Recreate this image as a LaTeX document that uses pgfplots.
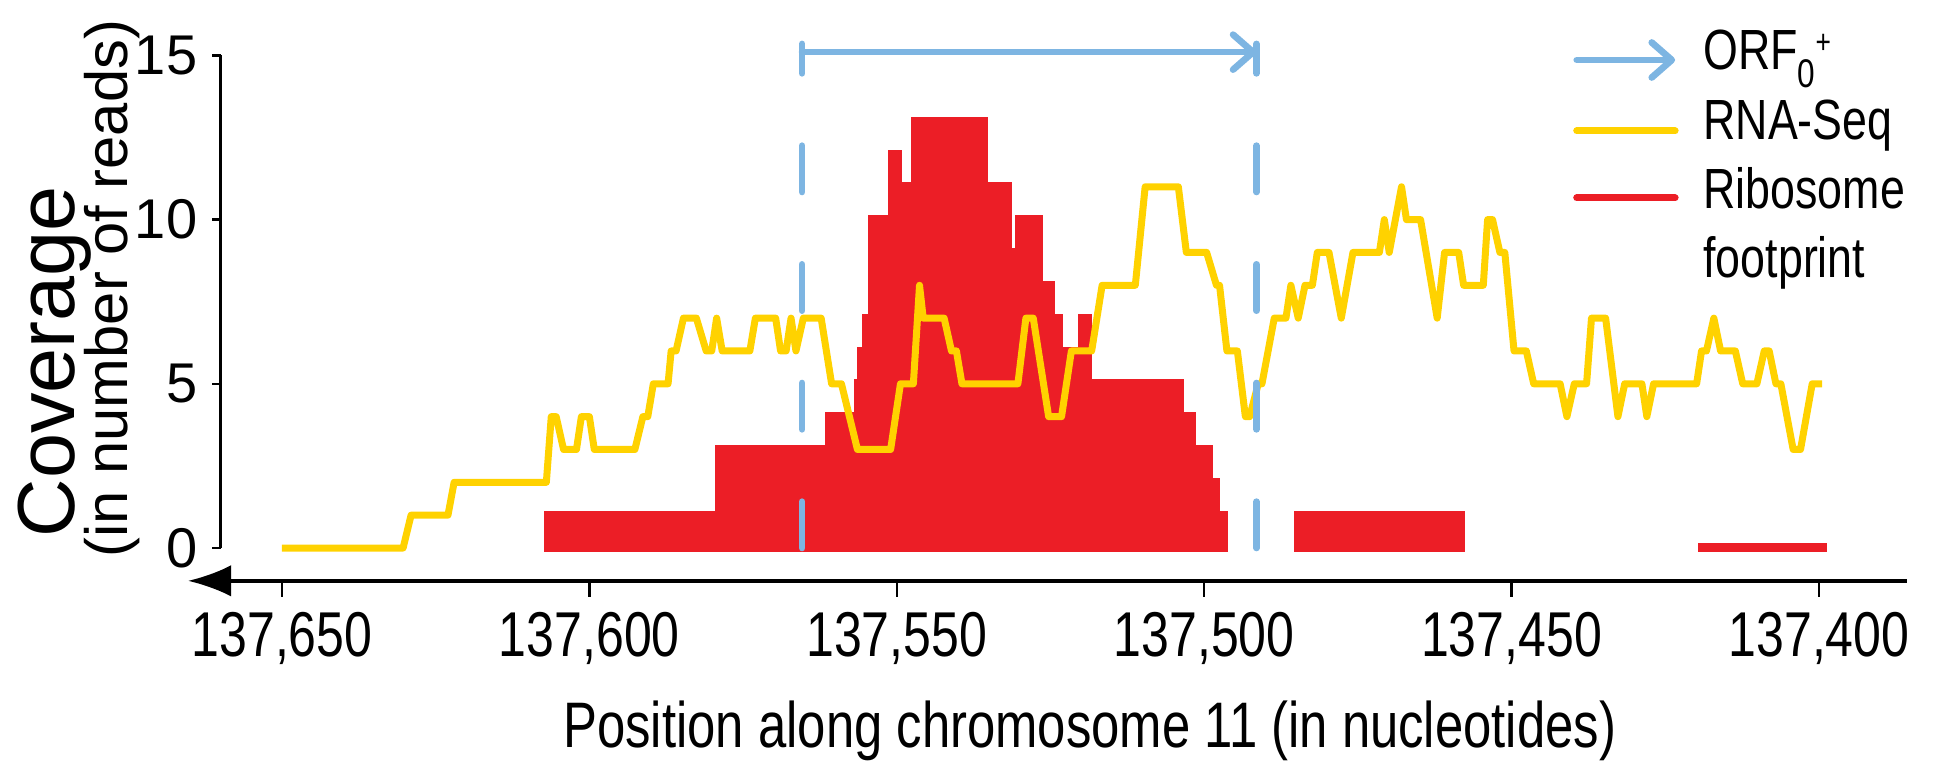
\documentclass[border=0pt]{standalone}
\usepackage{fontspec}
\setmainfont{Liberation Sans}
\newfontfamily\condfont{Liberation Sans}[FakeStretch=0.79]
\usepackage{pgfplots}
\pgfplotsset{compat=1.18}
\usetikzlibrary{arrows.meta}
\definecolor{orfblue}{RGB}{125,181,226}
\definecolor{rnayellow}{RGB}{255,210,0}
\definecolor{riboRed}{RGB}{236,30,38}
% x values: position along chromosome 11 minus 137,000
\begin{document}
\begin{tikzpicture}
\begin{axis}[
  x=1.8444pt, y=9.852pt,
  x dir=reverse,
  xmin=385.7, xmax=660,
  ymin=-1.0, ymax=15,
  clip=false,
  axis line style={draw=none},
  xtick={400,450,500,550,600,650},
  xticklabels={{137,400},{137,450},{137,500},{137,550},{137,600},{137,650}},
  ytick={0,5,10,15},
  yticklabels={0,5,10,15},
  xtick pos=bottom, ytick pos=left,
  tick align=outside,
  major tick length=4.8pt,
  xtick style={black, line width=0.7pt},
  ytick style={draw=none},
  xticklabel style={font=\condfont\fontsize{19}{22}\selectfont, inner sep=0pt, anchor=base, yshift=-17.9pt},
  yticklabel style={font=\fontsize{16.8}{19}\selectfont, inner sep=0pt, anchor=east, xshift=-2.0pt},
]
% Ribosome footprint coverage (step)
\addplot[fill=riboRed, draw=riboRed, line width=2.6pt, const plot] coordinates {
(606.7,0) (606.7,1) (578.9,3) (577.8,2) (576.8,3) (560.9,4) (556.3,5) (555.7,6)
(554.9,7) (554.0,10) (550.8,12) (549.8,11) (547.0,13) (535.8,11) (532.0,9) (530.0,10)
(526.9,7) (525.9,8) (524.9,7) (523.7,5) (522.9,6) (519.9,7) (518.9,4) (518.0,5)
(504.0,4) (502.1,3) (499.3,2) (498.1,1) (496.9,1) (496.9,0)} -- cycle;
\addplot[fill=riboRed, draw=riboRed, line width=2.6pt, const plot] coordinates {
(484.7,0) (484.7,1) (458.2,1) (458.2,0)} -- cycle;
\addplot[fill=riboRed, draw=riboRed, line width=2.6pt, const plot] coordinates {
(419.0,0) (419.0,0.02) (399.4,0.02) (399.4,0)} -- cycle;
% RNA-Seq coverage
\addplot[rnayellow, line width=2.1pt, line join=round] coordinates {
(650,0) (630.3,0) (629,1) (623,1) (622,2) (607,2) (606.2,4) (605.4,4) (604.2,3) (602.1,3)
(601.3,4) (600,4) (599.2,3) (592.6,3) (591.3,4) (590.5,4) (589.6,5) (587.2,5) (586.7,6)
(585.9,6) (584.7,7) (582.6,7) (581,6) (580.1,6) (579.3,7) (578.4,6) (573.9,6) (573,7)
(569.7,7) (568.9,6) (568,6) (567.2,7) (566.4,6) (565.2,7) (562.3,7) (560.6,5) (559,5)
(556.4,3) (551,3) (549.4,5) (547.3,5) (546.3,8) (545.7,7) (542.3,7) (541.1,6) (540.3,6)
(539.4,5) (530.3,5) (529,7) (527.8,7) (525.3,4) (523.2,4) (521.6,6) (518.3,6) (516.6,8)
(511.2,8) (509.6,11) (504.2,11) (502.9,9) (499.6,9) (498,8) (497.5,8) (496.3,6) (494.6,6)
(493.3,4) (492.6,4) (491.2,5) (490.6,5) (488.6,7) (486.7,7) (485.9,8) (484.7,7) (483.6,8)
(482.4,8) (481.6,9) (479.7,9) (477.7,7) (475.8,9) (471.5,9) (470.7,10) (469.9,9) (467.9,11)
(467.1,10) (464.8,10) (462.1,7) (460.9,9) (458.6,9) (457.8,8) (454.6,8) (453.9,10) (453.1,10)
(451.9,9) (451.1,9) (449.6,6) (447.6,6) (446.4,5) (442.1,5) (441,4) (439.8,5) (437.8,5)
(437,7) (434.7,7) (432.7,4) (431.6,5) (428.8,5) (428,4) (426.9,5) (419.9,5) (419.1,6)
(418.3,6) (417.1,7) (416,6) (413.6,6) (412.4,5) (410.1,5) (408.9,6) (408.1,6) (407,5)
(406.2,5) (404.2,3) (403,3) (401.1,5) (399.5,5)};
% ORF extent
\draw[orfblue, line width=2pt, line cap=round, dash pattern=on 13.9pt off 21.7pt] (axis cs:565.4,0) -- (axis cs:565.4,15.35);
\draw[orfblue, line width=2pt, line cap=round, dash pattern=on 13.9pt off 21.7pt] (axis cs:491.5,0) -- (axis cs:491.5,15.35);
\draw[orfblue, line width=2pt, line cap=round, -{Straight Barb[length=6pt,width=10.5pt,round]}] (axis cs:565.4,15.1) -- (axis cs:491.5,15.1);
% legend (key)
\draw[orfblue, line width=2pt, line cap=round, -{Straight Barb[length=6pt,width=10.5pt,round]}] (axis cs:439.4,14.86) -- (axis cs:423.4,14.86);
\draw[rnayellow, line width=2.1pt, line cap=round] (axis cs:439.4,12.70) -- (axis cs:423.4,12.70);
\draw[riboRed, line width=2.1pt, line cap=round] (axis cs:439.4,10.66) -- (axis cs:423.4,10.66);
\begin{scope}[every node/.style={anchor=base west, inner sep=0pt, font=\condfont\fontsize{17}{19}\selectfont}]
\node at (axis cs:418.9,14.556) {ORF\raisebox{-5.4pt}{\fontsize{12}{12}\selectfont 0}\raisebox{5pt}{\fontsize{10}{10}\selectfont +}};
\node at (axis cs:418.9,12.424) {RNA-Seq};
\node at (axis cs:418.9,10.353) {Ribosome};
\node at (axis cs:418.9,8.222) {footprint};
\end{scope}
% axes
\draw[black, line width=0.8pt] (axis cs:660,0) -- (axis cs:660,15);
\draw[black, line width=0.7pt] (axis cs:660,0) -- ([xshift=-2.7pt]axis cs:660,0);
\draw[black, line width=0.7pt] (axis cs:660,5) -- ([xshift=-2.7pt]axis cs:660,5);
\draw[black, line width=0.7pt] (axis cs:660,10) -- ([xshift=-2.7pt]axis cs:660,10);
\draw[black, line width=0.7pt] (axis cs:660,15) -- ([xshift=-2.7pt]axis cs:660,15);
\draw[black, line width=1.2pt, -{Latex[length=13pt,width=9.5pt]}] (axis cs:385.7,-1) -- (axis cs:665.3,-1);
% labels
\node[anchor=base, font=\condfont\fontsize{19.3}{22}\selectfont, inner sep=0pt] at (axis cs:518.6,-6.09) {Position along chromosome 11 (in nucleotides)};
\node[rotate=90, anchor=base west, inner sep=0pt, font=\fontsize{24.3}{28}\selectfont] at (axis cs:683.8,0.3) {Coverage};
\node[rotate=90, anchor=base west, inner sep=0pt, font=\fontsize{17.9}{21}\selectfont] at (axis cs:675.2,-0.3) {(in number of reads)};
\coordinate (imgNW) at (axis cs:695.87,16.687);
\coordinate (imgSE) at (axis cs:378.04,-6.699);
\end{axis}
\pgfresetboundingbox
\path[use as bounding box] (imgNW) rectangle (imgSE);
\end{tikzpicture}
\end{document}
